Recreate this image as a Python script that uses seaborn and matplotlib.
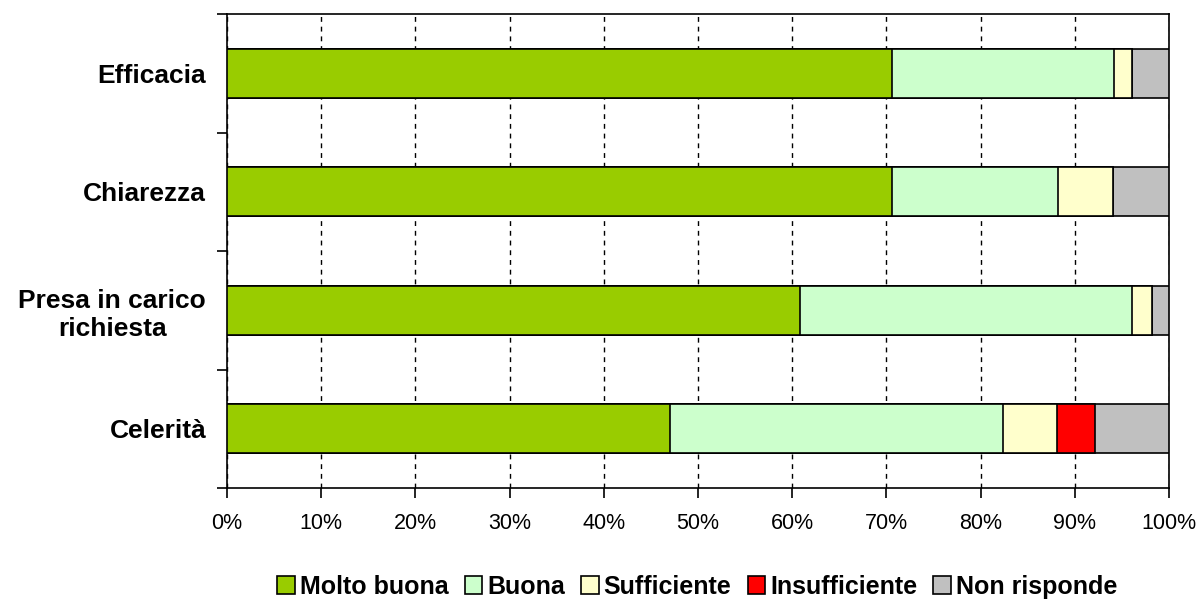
import matplotlib
matplotlib.use("Agg")
import matplotlib.pyplot as plt
import pandas as pd
import seaborn as sns
from matplotlib.patches import Patch
from matplotlib.ticker import FixedLocator, PercentFormatter

# data (percent of answers)
categories = ["Efficacia", "Chiarezza", "Presa in carico\nrichiesta", "Celerità"]
series = ["Molto buona", "Buona", "Sufficiente", "Insufficiente", "Non risponde"]
molto_buona = [70.6, 70.6, 60.8, 47.0]
buona = [23.6, 17.6, 35.3, 35.4]
sufficiente = [1.9, 5.9, 2.1, 5.7]
insufficiente = [0.0, 0.0, 0.0, 4.0]
non_risponde = [3.9, 5.9, 1.8, 7.9]
colors = ["#99CC00", "#CCFFCC", "#FFFFCC", "#FF0000", "#C0C0C0"]

df = pd.DataFrame({"cat": categories, "Molto buona": molto_buona, "Buona": buona,
                   "Sufficiente": sufficiente, "Insufficiente": insufficiente,
                   "Non risponde": non_risponde})
cum = df[series].cumsum(axis=1)
cum["cat"] = df["cat"]

sns.set_style("white")
plt.rcParams["font.family"] = ["Liberation Sans", "DejaVu Sans"]
plt.rcParams["text.color"] = "black"
plt.rcParams["xtick.color"] = "black"
plt.rcParams["ytick.color"] = "black"

fig = plt.figure(figsize=(11.98, 6), dpi=100)
ax = fig.add_axes([227 / 1198, 1 - 488 / 600, (1169 - 227) / 1198, (488 - 14) / 600])

# stacked bars: draw cumulative totals from the outside in
for s, c in zip(reversed(series), reversed(colors)):
    sns.barplot(data=cum, x=s, y="cat", order=categories, color=c, orient="h",
                width=0.41, saturation=1, edgecolor="black", linewidth=1.2,
                ax=ax, zorder=3)

ax.set_xlim(0, 100)
ax.set_ylim(3.5, -0.5)
ax.set_xlabel("")
ax.set_ylabel("")

ax.xaxis.set_major_locator(FixedLocator(range(0, 101, 10)))
ax.xaxis.set_major_formatter(PercentFormatter(decimals=0))
ax.tick_params(axis="x", direction="out", length=7, width=1.2, color="black",
               labelcolor="black", labelsize=15.5, pad=11, bottom=True)
ax.tick_params(axis="y", which="major", length=0, labelsize=19, pad=15,
               labelcolor="black")
ax.yaxis.set_minor_locator(FixedLocator([-0.5, 0.5, 1.5, 2.5, 3.5]))
ax.tick_params(axis="y", which="minor", direction="out", length=7, width=1.2,
               color="black", left=True)
for lbl in ax.get_yticklabels():
    lbl.set_fontweight("bold")
    lbl.set_multialignment("center")

ax.grid(axis="x", color="black", linestyle=(0, (3.5, 3.5)), linewidth=1, zorder=0)
ax.set_axisbelow(True)
for sp in ax.spines.values():
    sp.set_visible(True)
    sp.set_color("black")
    sp.set_linewidth(1.2)

handles = [Patch(facecolor=c, edgecolor="black", linewidth=1.2, label=s)
           for s, c in zip(series, colors)]
fig.legend(handles=handles, loc="center", bbox_to_anchor=(0.582, 0.022), ncol=5,
           frameon=False, handlelength=0.7, handleheight=0.7, handletextpad=0.2,
           columnspacing=0.65, labelcolor="black",
           prop={"weight": "bold", "size": 18})

fig.savefig("out.png", dpi=100)
